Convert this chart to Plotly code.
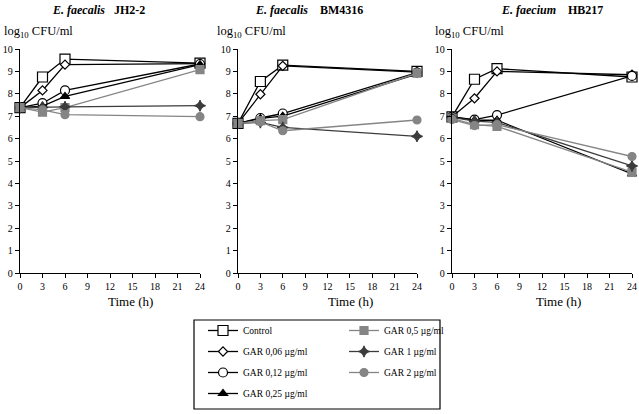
import plotly.graph_objects as go

times = [0, 3, 6, 24]
series_names = ["Control", "GAR 0,06 µg/ml", "GAR 0,12 µg/ml", "GAR 0,25 µg/ml",
                "GAR 0,5 µg/ml", "GAR 1 µg/ml", "GAR 2 µg/ml"]
panel_titles = ["<b><i>E. faecalis</i>&nbsp;&nbsp;&nbsp;JH2-2</b>",
                "<b><i>E. faecalis</i>&nbsp;&nbsp;&nbsp;&nbsp;BM4316</b>",
                "<b><i>E. faecium</i>&nbsp;&nbsp;&nbsp;&nbsp;HB217</b>"]
x_ticks = [0, 3, 6, 9, 12, 15, 18, 21, 24]
y_ticks = [0, 1, 2, 3, 4, 5, 6, 7, 8, 9, 10]

# log10 CFU/ml, one row per series (order of series_names)
jh2_2 = [
    [7.38, 8.75, 9.55, 9.37],
    [7.38, 8.15, 9.30, 9.35],
    [7.38, 7.58, 8.15, 9.33],
    [7.38, 7.45, 7.88, 9.30],
    [7.38, 7.18, 7.38, 9.08],
    [7.38, 7.40, 7.42, 7.47],
    [7.38, 7.28, 7.07, 6.98],
]
bm4316 = [
    [6.68, 8.55, 9.28, 9.00],
    [6.68, 7.98, 9.25, 8.97],
    [6.68, 6.92, 7.12, 8.95],
    [6.68, 6.90, 7.00, 8.88],
    [6.68, 6.80, 6.85, 8.92],
    [6.68, 6.72, 6.50, 6.10],
    [6.68, 6.75, 6.35, 6.83],
]
hb217 = [
    [6.97, 8.65, 9.12, 8.75],
    [6.97, 7.80, 9.00, 8.85],
    [6.97, 6.85, 7.05, 8.80],
    [6.97, 6.82, 6.82, 4.42],
    [6.90, 6.62, 6.55, 4.50],
    [6.95, 6.78, 6.72, 4.78],
    [6.85, 6.58, 6.62, 5.20],
]
panels = [jh2_2, bm4316, hb217]

GREY = "#858585"
DARK = "#3c3c3c"
styles = [
    dict(symbol="square", size=10, fill="white", color="black"),
    dict(symbol="diamond", size=7, fill="white", color="black"),
    dict(symbol="circle", size=9, fill="white", color="black"),
    dict(symbol="triangle-up", size=8, fill="black", color="black"),
    dict(symbol="square", size=8, fill=GREY, color=GREY),
    dict(symbol="star-diamond", size=8, fill=DARK, color=DARK),
    dict(symbol="circle", size=8, fill=GREY, color=GREY),
]

W, H = 639, 414
x_doms = [(20, 200), (238, 417), (452, 632)]
y_dom = [1 - 273 / H, 1 - 49 / H]
FONT = "Liberation Serif"

fig = go.Figure()
for p, data in enumerate(panels):
    xa = "x" if p == 0 else f"x{p+1}"
    ya = "y" if p == 0 else f"y{p+1}"
    for i, name in enumerate(series_names):
        st = styles[i]
        fig.add_trace(go.Scatter(
            x=times, y=data[i], mode="lines+markers", name=name,
            line=dict(color=st["color"], width=1.3),
            marker=dict(symbol=st["symbol"], size=st["size"], color=st["fill"],
                        line=dict(color=st["color"], width=1.2)),
            cliponaxis=False,
            xaxis=xa, yaxis=ya, legendgroup=name,
            showlegend=(p == 0),
            legend="legend" if i < 4 else "legend2",
        ))

axis_common = dict(showline=True, linecolor="black", linewidth=1.3, ticks="outside",
                   ticklen=4, tickwidth=1.2, tickcolor="black", showgrid=False,
                   zeroline=False, automargin=False,
                   tickfont=dict(family=FONT, size=10, color="black"))
layout = dict(
    width=W, height=H, margin=dict(l=0, r=0, t=0, b=0, autoexpand=False),
    plot_bgcolor="white", paper_bgcolor="white",
    font=dict(family=FONT, color="black"),
)
annotations = []
for p in range(3):
    sfx = "" if p == 0 else str(p + 1)
    x0, x1 = x_doms[p]
    layout["xaxis" + sfx] = dict(axis_common, domain=[x0 / W, x1 / W], range=[0, 24],
                                 tickvals=x_ticks, anchor="y" + sfx)
    layout["yaxis" + sfx] = dict(axis_common, domain=y_dom, range=[0, 10],
                                 tickvals=y_ticks, anchor="x" + sfx)
    title_cx = [99, 309, 552][p]
    annotations.append(dict(text=panel_titles[p], x=title_cx / W, y=1 - 10 / H,
                            xref="paper", yref="paper", showarrow=False,
                            font=dict(family=FONT, size=12), xanchor="center", yanchor="middle"))
    lab_x = [2, 215, 433][p]
    annotations.append(dict(text="log<sub>10</sub> CFU/ml", x=lab_x / W, y=1 - 32 / H,
                            xref="paper", yref="paper", showarrow=False,
                            font=dict(family=FONT, size=12.5), xanchor="left", yanchor="middle"))
    time_cx = [130, 350, 558][p]
    annotations.append(dict(text="Time (h)", x=time_cx / W, y=1 - 301 / H,
                            xref="paper", yref="paper", showarrow=False,
                            font=dict(family=FONT, size=13), xanchor="center", yanchor="middle"))
layout["annotations"] = annotations

leg_common = dict(bgcolor="rgba(0,0,0,0)", borderwidth=0, tracegroupgap=2,
                  font=dict(family=FONT, size=9.5), yanchor="top", xanchor="left",
                  itemclick=False, itemdoubleclick=False)
layout["legend"] = dict(leg_common, x=203 / W, y=1 - 316 / H)
layout["legend2"] = dict(leg_common, x=344 / W, y=1 - 316 / H)
layout["shapes"] = [dict(type="rect", xref="paper", yref="paper",
                         x0=194 / W, x1=440 / W, y0=1 - 409 / H, y1=1 - 320 / H,
                         line=dict(color="black", width=1.2))]
fig.update_layout(**layout)
fig.write_html("out.html", config={"displayModeBar": False},
               post_script="document.body.style.margin='0';document.body.style.overflow='hidden';")
